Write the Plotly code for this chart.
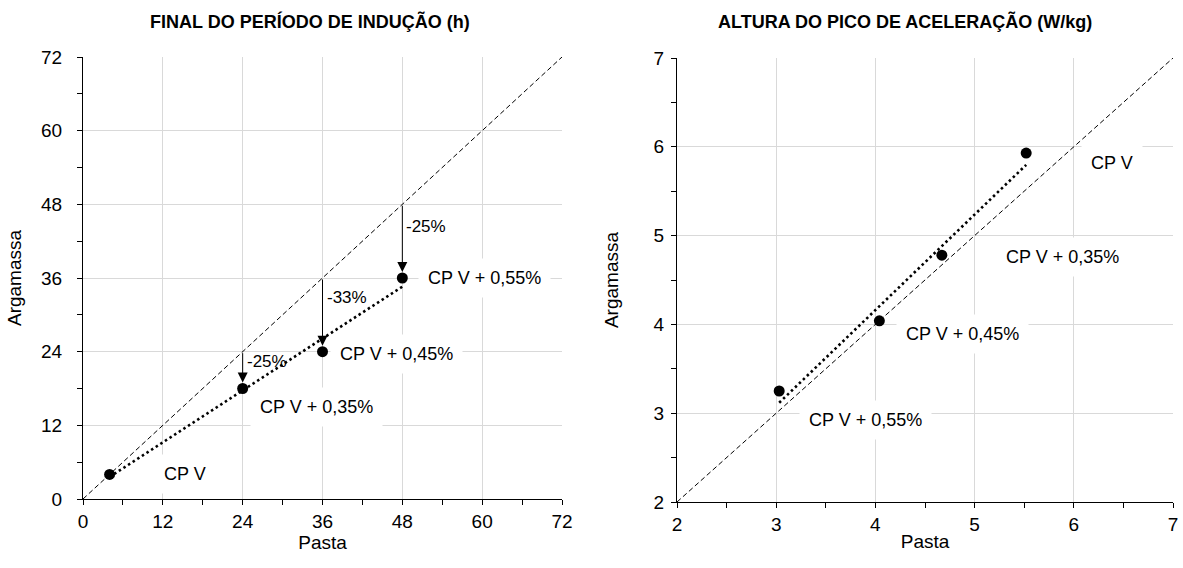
import numpy as np
import plotly.graph_objects as go

# ---- data -------------------------------------------------------------
rotulos = ["CP V", "CP V + 0,35%", "CP V + 0,45%", "CP V + 0,55%"]

# Final do período de indução (h)
pasta_inducao = [4, 24, 36, 48]
argamassa_inducao = [4, 18, 24, 36]

# Altura do pico de aceleração (W/kg)
pasta_pico = [5.52, 4.67, 4.04, 3.03]
argamassa_pico = [5.93, 4.78, 4.04, 3.25]

titulo_inducao = "FINAL DO PERÍODO DE INDUÇÃO (h)"
titulo_pico = "ALTURA DO PICO DE ACELERAÇÃO (W/kg)"

# ---- styling / placement ---------------------------------------------
W, H = 1183, 568
FONT = "Liberation Sans, Arial, sans-serif"
GRID = "#d9d9d9"

# label offsets (px) relative to each point
off_inducao = [(75, 0), (74, -18), (74, -2), (82, 0)]
off_pico = [(86, -10), (121, -2), (83, -13), (86, -29)]
# vertical offsets (px) of the percentage texts below the arrow tail
off_pct = [-10, -19, -22]

fig = go.Figure()


def panel(xs, ys, xa, ya, lo, hi):
    # identity line
    fig.add_trace(go.Scatter(x=[lo, hi], y=[lo, hi], mode="lines",
                             line=dict(color="black", width=1, dash="5px,3px"),
                             xaxis=xa, yaxis=ya, hoverinfo="skip"))
    # linear trend
    a, b = np.polyfit(xs, ys, 1)
    tx = np.array([min(xs), max(xs)])
    fig.add_trace(go.Scatter(x=tx, y=a * tx + b, mode="lines",
                             line=dict(color="black", width=2.6, dash="2.5px,3px"),
                             xaxis=xa, yaxis=ya, hoverinfo="skip"))
    # points
    fig.add_trace(go.Scatter(x=xs, y=ys, mode="markers",
                             marker=dict(color="black", size=11),
                             xaxis=xa, yaxis=ya))


panel(pasta_inducao, argamassa_inducao, "x", "y", 0, 72)
panel(pasta_pico, argamassa_pico, "x2", "y2", 2, 7)

ann = []
for xs, ys, offs, xr, yr in [(pasta_inducao, argamassa_inducao, off_inducao, "x", "y"),
                             (pasta_pico, argamassa_pico, off_pico, "x2", "y2")]:
    for t, px, py, (dx, dy) in zip(rotulos, xs, ys, offs):
        ann.append(dict(x=px, y=py, xref=xr, yref=yr, text=t, showarrow=False,
                        xshift=dx, yshift=dy, bgcolor="white", borderpad=9,
                        font=dict(family=FONT, size=18, color="black")))

# reduction arrows from identity line down to each point
for i in range(1, len(pasta_inducao)):
    px, py = pasta_inducao[i], argamassa_inducao[i]
    ann.append(dict(x=px, y=py, ax=px, ay=px, xref="x", yref="y", axref="x", ayref="y",
                    text="", showarrow=True, arrowhead=2, arrowsize=2,
                    arrowwidth=1, arrowcolor="black", standoff=6))
    pct = round((py - px) / px * 100)
    ann.append(dict(x=px, y=px, xref="x", yref="y", text=f"{pct}%", showarrow=False,
                    xanchor="left", yanchor="middle", xshift=2, yshift=off_pct[i - 1],
                    font=dict(family=FONT, size=17, color="black")))

# panel titles
ann.append(dict(x=310 / W, y=1 - 22 / H, xref="paper", yref="paper", xanchor="center",
                yanchor="middle", text=f"<b>{titulo_inducao}</b>",
                showarrow=False, font=dict(family=FONT, size=18, color="black")))
ann.append(dict(x=905 / W, y=1 - 22 / H, xref="paper", yref="paper", xanchor="center",
                yanchor="middle", text=f"<b>{titulo_pico}</b>",
                showarrow=False, font=dict(family=FONT, size=18, color="black")))

fig.update_layout(annotations=ann)


def axis(rng, dtick, minor, dom, anchor, title, standoff, lblgap):
    return dict(range=rng, dtick=dtick, tick0=rng[0], domain=dom, anchor=anchor,
                automargin=False,
                showgrid=True, gridcolor=GRID, gridwidth=1, zeroline=False,
                showline=True, linecolor="black", linewidth=1.3,
                ticks="outside", ticklen=5, tickcolor="black", tickwidth=1,
                ticklabelstandoff=lblgap,
                minor=dict(dtick=minor, tick0=rng[0], ticks="outside", ticklen=5,
                           tickcolor="black", showgrid=False),
                tickfont=dict(family=FONT, size=19, color="black"),
                title=dict(text=title, font=dict(family=FONT, size=19, color="black"),
                           standoff=standoff),
                fixedrange=True)


fig.update_layout(
    width=W, height=H,
    margin=dict(l=0, r=0, t=0, b=0),
    paper_bgcolor="white", plot_bgcolor="white",
    showlegend=False,
    xaxis=axis([0, 72], 12, 6, [83 / W, 562 / W], "y", "Pasta", 0, 0),
    yaxis=axis([0, 72], 12, 6, [1 - 499 / H, 1 - 57 / H], "x", "Argamassa", 14, 11),
    xaxis2=axis([2, 7], 1, 0.5, [677 / W, 1173 / W], "y2", "Pasta", 0, 0),
    yaxis2=axis([2, 7], 1, 0.5, [1 - 502 / H, 1 - 58 / H], "x2", "Argamassa", 29, 3),
)

fig.write_html("out.html")
